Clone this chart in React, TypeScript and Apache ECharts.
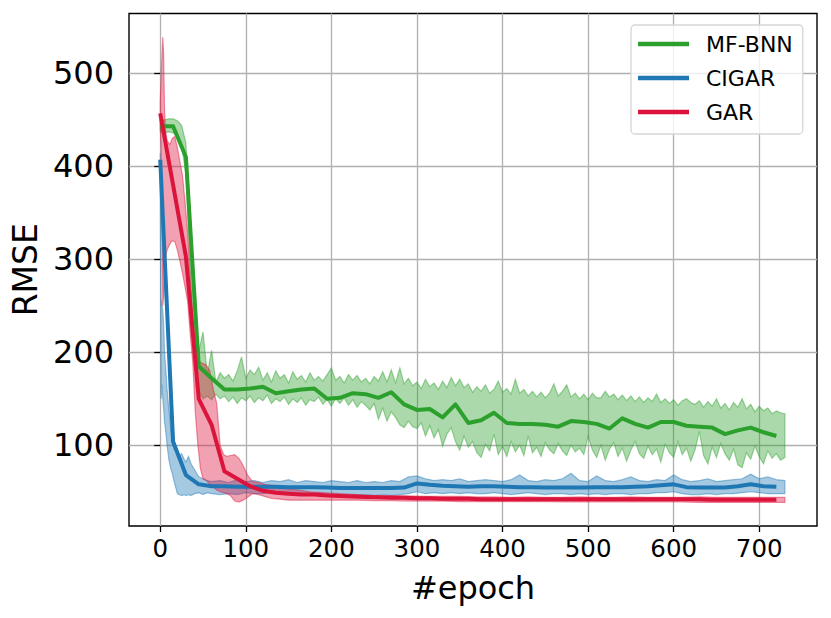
import React, { useEffect, useRef } from "react";
import * as echarts from "echarts";

// ---------- data ----------
const X_TICKS = [0, 100, 200, 300, 400, 500, 600, 700];
const Y_TICKS = [100, 200, 300, 400, 500];
const SERIES_NAMES = ["MF-BNN", "CIGAR", "GAR"];

// mean curves (evaluated every 15 epochs)
const LINE_EPOCHS = [
  0, 15, 30, 45, 60, 75, 90, 105, 120, 135, 150, 165, 180, 195, 210, 225, 240,
  255, 270, 285, 300, 315, 330, 345, 360, 375, 390, 405, 420, 435, 450, 465,
  480, 495, 510, 525, 540, 555, 570, 585, 600, 615, 630, 645, 660, 675, 690,
  705, 720,
];
const MFBNN_MEAN = [
  443, 443, 410, 185, 172, 160, 160, 161, 163, 156,
  158, 160, 161, 150, 151, 156, 155, 151, 157, 144,
  138, 139, 130, 144, 124, 127, 135, 124, 123, 123,
  122, 120, 126, 125, 123, 118, 129, 123, 119, 125,
  125, 121, 120, 119, 112, 116, 119, 114, 110,
];
const CIGAR_MEAN = [
  407, 104, 68, 58, 56, 56, 55.5, 55.5, 55.5, 55.5,
  55, 55, 55, 54.5, 54, 54, 54, 54, 54, 54.5,
  59, 57.5, 56.5, 56, 55.5, 56, 56, 55.5, 55, 55,
  54.5, 54.5, 54.5, 54.5, 55, 55, 55, 55.5, 56, 57,
  58, 55, 54.5, 54.5, 54.5, 56, 58, 56, 55.5,
];
const GAR_MEAN = [
  457, 380, 303, 150, 122, 72, 64, 56, 51, 49,
  48, 47, 47, 46, 45.5, 45, 44.5, 44, 43.5, 43.5,
  43, 43, 42.5, 42.5, 42.5, 42, 42, 42, 42, 42,
  42, 42, 42, 42, 42, 42, 42, 42, 42, 42,
  42, 42, 42, 41.5, 41.5, 41.5, 41.5, 41.5, 41.5,
];

// MF-BNN spread band, every 5 epochs from 0 to 730
const MFBNN_BAND_EPOCHS = [
  0, 5, 10, 15, 20, 25, 30, 35, 40, 45, 50, 55, 60, 65, 70, 75, 80, 85, 90, 95,
  100, 105, 110, 115, 120, 125, 130, 135, 140, 145, 150, 155, 160, 165, 170,
  175, 180, 185, 190, 195, 200, 205, 210, 215, 220, 225, 230, 235, 240, 245,
  250, 255, 260, 265, 270, 275, 280, 285, 290, 295, 300, 305, 310, 315, 320,
  325, 330, 335, 340, 345, 350, 355, 360, 365, 370, 375, 380, 385, 390, 395,
  400, 405, 410, 415, 420, 425, 430, 435, 440, 445, 450, 455, 460, 465, 470,
  475, 480, 485, 490, 495, 500, 505, 510, 515, 520, 525, 530, 535, 540, 545,
  550, 555, 560, 565, 570, 575, 580, 585, 590, 595, 600, 605, 610, 615, 620,
  625, 630, 635, 640, 645, 650, 655, 660, 665, 670, 675, 680, 685, 690, 695,
  700, 705, 710, 715, 720, 725, 730,
];
const MFBNN_HIGH = [
  449, 450, 451, 451, 449, 444, 425, 330, 235, 200,
  222, 176, 202, 168, 178, 172, 176, 169, 180, 195,
  172, 181, 176, 184, 170, 178, 168, 180, 172, 176,
  167, 179, 171, 175, 168, 178, 170, 174, 169, 176,
  183, 170, 174, 167, 176, 170, 175, 168, 172, 166,
  174, 169, 179, 168, 181, 167, 183, 166, 172, 164,
  168, 161, 171, 163, 167, 160, 169, 162, 173, 164,
  171, 162, 166, 157, 163, 158, 165, 156, 160, 169,
  157, 161, 155, 171, 156, 160, 153, 158, 152, 157,
  151, 156, 166, 153, 158, 165, 152, 156, 150, 155,
  149, 156, 151, 151, 158, 152, 155, 149, 154, 148,
  153, 147, 152, 146, 151, 147, 155, 146, 150, 145,
  149, 143, 148, 150, 146, 144, 148, 141, 147, 142,
  150, 140, 145, 138, 146, 141, 150, 139, 144, 136,
  142, 137, 140, 134, 137, 135, 134,
];
const MFBNN_LOW = [
  437, 436, 437, 436, 432, 421, 392, 290, 190, 158,
  150, 153, 149, 155, 150, 153, 147, 152, 145, 151,
  148, 153, 146, 151, 148, 154, 145, 150, 147, 152,
  144, 150, 146, 151, 143, 149, 147, 152, 144, 149,
  142, 150, 145, 151, 143, 149, 141, 147, 143, 138,
  145, 128, 140, 126, 136, 130, 122, 119, 126, 120,
  118, 124, 110, 121, 108, 117, 99, 112, 119, 104,
  95, 110, 98, 104, 92, 87, 101, 94, 112, 90,
  99, 88, 104, 93, 100, 89, 110, 92, 98, 88,
  103, 95, 91, 102, 94, 89, 100, 93, 97, 90,
  110, 95, 87, 100, 84, 96, 103, 88, 97, 83,
  95, 104, 91, 86, 99, 90, 96, 82, 101, 92,
  87, 104, 90, 97, 83, 95, 115, 89, 80, 98,
  87, 102, 91, 84, 96, 79, 76, 92, 85, 99,
  88, 80, 94, 86, 91, 84, 87,
];

// CIGAR spread band
const CIGAR_BAND_EPOCHS = [
  0, 1, 2, 3, 4, 5, 6, 7, 8, 10, 12, 14, 16, 18, 20, 22, 25, 28, 30, 33, 36,
  40, 45, 50, 55, 60,
  70, 80, 90, 100, 110, 120, 130, 140, 150, 160, 170, 180, 190, 200, 210, 220,
  230, 240, 250, 260, 270, 280, 290, 300, 310, 320, 330, 340, 350, 360, 370,
  380, 390, 400, 410, 420, 430, 440, 450, 460, 470, 480, 490, 500, 510, 520,
  530, 540, 550, 560, 570, 580, 590, 600, 610, 620, 630, 640, 650, 660, 670,
  680, 690, 700, 710, 720, 730,
];
const CIGAR_LOW = [
  398, 150, 165, 150, 140, 125, 118, 110, 100, 85, 76, 70, 62, 55, 48, 47, 46,
  47, 46, 47, 46, 48, 49, 47, 49, 48,
  47, 48, 47, 49, 48, 48, 49, 48, 48, 47,
  48, 48, 47, 47, 47, 46, 47, 47, 46, 47,
  46, 47, 48, 50, 48, 49, 48, 49, 48, 49,
  48, 48, 49, 48, 47, 48, 49, 48, 47, 48,
  48, 47, 48, 47, 48, 47, 48, 48, 47, 48,
  48, 49, 49, 50, 48, 47, 47, 48, 47, 48,
  48, 49, 50, 49, 48, 48, 48,
];
const CIGAR_HIGH = [
  414, 258, 252, 245, 230, 200, 188, 175, 160, 140, 120, 105, 96, 94, 90, 88,
  91, 85, 82, 88, 80, 74, 66, 64, 62, 61,
  62, 60, 63, 61, 62, 60, 62, 61, 63, 60,
  62, 61, 60, 62, 61, 60, 62, 60, 61, 60,
  62, 61, 66, 67, 64, 62, 63, 62, 64, 61,
  62, 63, 62, 61, 63, 68, 62, 61, 63, 62,
  64, 70, 62, 61, 67, 62, 61, 63, 66, 62,
  61, 63, 62, 68, 63, 61, 62, 64, 61, 62,
  63, 64, 69, 64, 66, 63, 62,
];

// GAR spread band
const GAR_BAND_EPOCHS = [
  0, 1, 2, 3, 4, 5, 6, 8, 11, 14,
  17, 20, 23, 26, 29, 32, 35, 38, 41, 44,
  47, 50, 54, 58, 62, 66, 70, 74, 78, 82,
  87, 92, 97, 102, 108, 115, 122, 130, 140, 150,
  160, 175, 190, 210, 230,
  250, 270, 290, 310, 330, 350, 370, 390, 410, 430, 450, 470, 490, 510, 530,
  550, 570, 590, 610, 630, 650, 670, 690, 710, 730,
];
const GAR_HIGH = [
  470, 495, 520, 539, 520, 462, 440, 428, 423, 430,
  432, 420, 405, 390, 362, 330, 280, 238, 205, 192,
  189, 188, 186, 180, 160, 145, 100, 90, 88, 89,
  90, 86, 78, 68, 61, 60, 58, 57, 55, 53,
  52, 50, 49, 48, 47,
  46, 46, 45.5, 45, 45, 45, 44.5, 44.5, 44, 44.5,
  44, 44, 44.5, 44, 44, 44.5, 44, 44, 44, 44.5,
  44, 44, 44, 44, 44,
];
const GAR_LOW = [
  445, 420, 330, 250, 260, 285, 300, 310, 316, 320,
  319, 310, 298, 285, 270, 255, 220, 190, 135, 100,
  75, 64, 62, 58, 55, 52, 50, 49, 48, 46,
  40, 39, 41, 44, 48, 47, 45, 43, 42, 41,
  41, 41, 41, 41, 41,
  40.5, 40.5, 40, 40, 40, 39.5, 39.5, 39.5, 39.5, 39.5,
  39.5, 39, 39.5, 39, 39, 39, 39, 39, 39, 38.5,
  38.5, 38.5, 38.5, 38.5, 38.5,
];

// ---------- styling ----------
const FONT = "DejaVu Sans";
const GREEN = "#2ca02c";
const BLUE = "#1f77b4";
const RED = "#dc143c";

function zip(xs: number[], ys: number[]) {
  return xs.map((x, i) => [x, ys[i]]);
}

function bandSeries(
  name: string,
  epochs: number[],
  low: number[],
  high: number[],
  rgb: string
) {
  return {
    type: "custom",
    name: name + "-band",
    silent: true,
    clip: true,
    data: epochs.map((e, i) => [e, low[i], high[i]]),
    encode: { x: 0, y: [1, 2] },
    renderItem: (params: any, api: any) => {
      if (params.dataIndex !== 0) return null;
      const pts: number[][] = [];
      for (let i = 0; i < epochs.length; i++) pts.push(api.coord([epochs[i], high[i]]));
      for (let i = epochs.length - 1; i >= 0; i--) pts.push(api.coord([epochs[i], low[i]]));
      return {
        type: "polygon",
        shape: { points: pts },
        style: {
          fill: `rgba(${rgb},0.4)`,
          stroke: `rgba(${rgb},0.45)`,
          lineWidth: 1.2,
        },
      };
    },
  };
}

function lineSeries(name: string, values: number[], color: string) {
  return {
    type: "line",
    name,
    data: zip(LINE_EPOCHS, values),
    showSymbol: false,
    symbol: "none",
    color,
    lineStyle: { color, width: 4, join: "round", cap: "butt" },
  };
}

export default function App() {
  const ref = useRef<HTMLDivElement>(null);

  useEffect(() => {
    if (!ref.current) return;
    const chart = echarts.init(ref.current, undefined, { renderer: "svg" });
    chart.setOption({
      animation: false,
      backgroundColor: "#ffffff",
      grid: {
        left: 129,
        right: 14,
        top: 13.5,
        bottom: 92,
        show: true,
        borderColor: "#000000",
        borderWidth: 1.4,
        backgroundColor: "transparent",
      },
      legend: {
        data: SERIES_NAMES,
        orient: "vertical",
        left: 631,
        top: 25,
        icon: "rect",
        itemWidth: 51,
        itemHeight: 4.5,
        itemGap: 12,
        padding: [8, 10, 11, 7],
        backgroundColor: "rgba(255,255,255,0.8)",
        borderColor: "#d6d6d6",
        borderWidth: 1.3,
        borderRadius: 4,
        selectedMode: false,
        textStyle: {
          fontFamily: FONT,
          fontSize: 22,
          lineHeight: 22,
          color: "#000",
          padding: [0, 0, 0, 12],
        },
      },
      xAxis: {
        type: "value",
        min: -36.5,
        max: 767.5,
        splitNumber: 8,
        minInterval: 100,
        maxInterval: 100,
        name: "#epoch",
        nameLocation: "middle",
        nameGap: 46,
        nameTextStyle: { fontFamily: FONT, fontSize: 32, color: "#000" },
        axisLine: { show: false },
        axisTick: {
          show: true,
          inside: false,
          length: 6,
          customValues: X_TICKS,
          lineStyle: { color: "#000", width: 1.3 },
        },
        axisLabel: {
          show: true,
          customValues: X_TICKS,
          fontFamily: FONT,
          fontSize: 24.5,
          color: "#000",
          margin: 10,
        },
        splitLine: { show: true, lineStyle: { color: "#b0b0b0", width: 1.3 } },
      },
      yAxis: {
        type: "value",
        min: 13.2,
        max: 564.3,
        splitNumber: 5,
        minInterval: 100,
        maxInterval: 100,
        name: "RMSE",
        nameLocation: "middle",
        nameRotate: 90,
        nameGap: 86,
        nameTextStyle: { fontFamily: FONT, fontSize: 33, color: "#000" },
        axisLine: { show: false },
        axisTick: {
          show: true,
          inside: false,
          length: 6,
          customValues: Y_TICKS,
          lineStyle: { color: "#000", width: 1.3 },
        },
        axisLabel: {
          show: true,
          customValues: Y_TICKS,
          fontFamily: FONT,
          fontSize: 32,
          color: "#000",
          margin: 15,
        },
        splitLine: { show: true, lineStyle: { color: "#b0b0b0", width: 1.3 } },
      },
      series: [
        bandSeries("MF-BNN", MFBNN_BAND_EPOCHS, MFBNN_LOW, MFBNN_HIGH, "44,160,44"),
        lineSeries("MF-BNN", MFBNN_MEAN, GREEN),
        bandSeries("CIGAR", CIGAR_BAND_EPOCHS, CIGAR_LOW, CIGAR_HIGH, "31,119,180"),
        lineSeries("CIGAR", CIGAR_MEAN, BLUE),
        bandSeries("GAR", GAR_BAND_EPOCHS, GAR_LOW, GAR_HIGH, "220,20,60"),
        lineSeries("GAR", GAR_MEAN, RED),
      ],
    });
    return () => chart.dispose();
  }, []);

  return (
    <div
      ref={ref}
      style={{ position: "fixed", left: 0, top: 0, width: 831, height: 618, background: "#fff" }}
    />
  );
}
